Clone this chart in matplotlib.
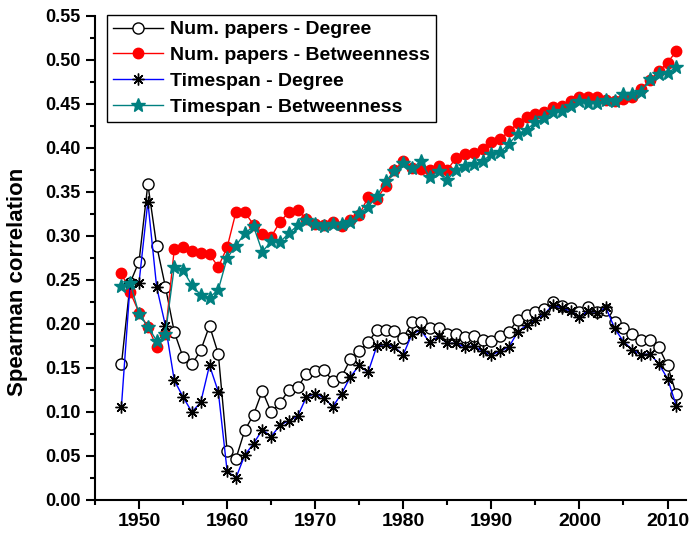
import numpy as np
import matplotlib
matplotlib.use("Agg")
import matplotlib.pyplot as plt
from matplotlib.ticker import MultipleLocator, FormatStrFormatter

plt.rcParams["font.family"] = ["Liberation Sans", "DejaVu Sans"]
plt.rcParams["font.weight"] = "bold"

years = np.arange(1948, 2012)

papers_degree = [
    0.154, 0.247, 0.271, 0.359, 0.289, 0.242, 0.191, 0.162, 0.154, 0.170,
    0.198, 0.166, 0.056, 0.047, 0.079, 0.097, 0.124, 0.100, 0.110, 0.125,
    0.128, 0.143, 0.147, 0.148, 0.135, 0.140, 0.160, 0.169, 0.179, 0.193,
    0.193, 0.192, 0.184, 0.202, 0.202, 0.195, 0.196, 0.189, 0.189, 0.185,
    0.186, 0.182, 0.181, 0.186, 0.191, 0.205, 0.210, 0.214, 0.217, 0.225,
    0.221, 0.218, 0.214, 0.219, 0.214, 0.216, 0.202, 0.195, 0.189, 0.182,
    0.182, 0.174, 0.153, 0.120,
]
papers_betweenness = [
    0.258, 0.236, 0.213, 0.197, 0.174, 0.189, 0.285, 0.287, 0.283, 0.281,
    0.279, 0.265, 0.287, 0.327, 0.327, 0.313, 0.302, 0.299, 0.316, 0.327,
    0.330, 0.319, 0.314, 0.312, 0.316, 0.311, 0.318, 0.324, 0.344, 0.342,
    0.357, 0.375, 0.385, 0.377, 0.376, 0.375, 0.380, 0.375, 0.389, 0.393,
    0.394, 0.399, 0.407, 0.410, 0.419, 0.428, 0.435, 0.439, 0.441, 0.447,
    0.448, 0.453, 0.458, 0.458, 0.458, 0.455, 0.453, 0.456, 0.458, 0.467,
    0.477, 0.487, 0.497, 0.510,
]
timespan_degree = [
    0.106, 0.247, 0.247, 0.339, 0.242, 0.198, 0.136, 0.117, 0.100, 0.111,
    0.153, 0.123, 0.033, 0.025, 0.051, 0.064, 0.080, 0.072, 0.085, 0.090,
    0.095, 0.117, 0.121, 0.116, 0.106, 0.121, 0.140, 0.153, 0.145, 0.175,
    0.177, 0.174, 0.165, 0.189, 0.193, 0.179, 0.186, 0.178, 0.178, 0.174,
    0.175, 0.169, 0.165, 0.169, 0.174, 0.191, 0.199, 0.205, 0.211, 0.222,
    0.218, 0.215, 0.208, 0.215, 0.213, 0.219, 0.195, 0.180, 0.171, 0.165,
    0.166, 0.155, 0.138, 0.107,
]
timespan_betweenness = [
    0.243, 0.247, 0.211, 0.197, 0.181, 0.189, 0.265, 0.261, 0.244, 0.233,
    0.230, 0.239, 0.275, 0.289, 0.303, 0.311, 0.282, 0.294, 0.293, 0.303,
    0.312, 0.318, 0.314, 0.311, 0.314, 0.314, 0.316, 0.326, 0.333, 0.345,
    0.362, 0.374, 0.383, 0.377, 0.385, 0.367, 0.374, 0.364, 0.375, 0.380,
    0.382, 0.385, 0.393, 0.395, 0.405, 0.416, 0.421, 0.429, 0.434, 0.441,
    0.442, 0.448, 0.453, 0.451, 0.451, 0.455, 0.453, 0.461, 0.461, 0.464,
    0.478, 0.484, 0.485, 0.492,
]

fig = plt.figure(figsize=(6.92, 5.37), dpi=100)
ax = fig.add_axes([95 / 692, 1 - 500 / 537, (686 - 95) / 692, (500 - 16) / 537])

ax.plot(years, papers_degree, color="black", lw=1, marker="o", ms=8,
        mfc="white", mec="black", mew=1, label="Num. papers - Degree")
ax.plot(years, papers_betweenness, color="red", lw=1, marker="o", ms=7.5,
        mfc="red", mec="red", label="Num. papers - Betweenness")
ax.plot(years, timespan_degree, color="blue", lw=1, marker=(8, 2, 0), ms=8.5,
        mec="black", mew=1, label="Timespan - Degree")
ax.plot(years, timespan_betweenness, color="#008080", lw=1, marker="*", ms=10,
        mfc="#008080", mec="#008080", label="Timespan - Betweenness")

ax.set_xlim(1945, 2012.1)
ax.set_ylim(0, 0.55)
ax.xaxis.set_major_locator(MultipleLocator(10))
ax.xaxis.set_minor_locator(MultipleLocator(5))
ax.yaxis.set_major_locator(MultipleLocator(0.05))
ax.yaxis.set_minor_locator(MultipleLocator(0.025))
ax.yaxis.set_major_formatter(FormatStrFormatter("%.2f"))

for side in ("top", "right"):
    ax.spines[side].set_visible(False)
for side in ("left", "bottom"):
    ax.spines[side].set_linewidth(1.5)
ax.tick_params(which="major", length=6.5, width=1.5)
ax.tick_params(which="minor", length=3.6, width=1.5)
ax.tick_params(axis="x", which="major", labelsize=14, pad=3)
ax.tick_params(axis="y", which="major", labelsize=13, pad=4)
for lbl in ax.get_xticklabels() + ax.get_yticklabels():
    lbl.set_fontweight("bold")

ax.set_ylabel("Spearman correlation", fontsize=16, fontweight="bold")
ax.yaxis.set_label_coords(-0.113, 0.45)

leg = ax.legend(loc="upper left", bbox_to_anchor=(107 / 692, 1 - 15 / 537),
                bbox_transform=fig.transFigure, borderaxespad=0,
                prop={"size": 14, "weight": "bold"}, handlelength=2.6,
                handletextpad=0.35, labelspacing=0.42, fancybox=False,
                edgecolor="black", framealpha=1, borderpad=0.3)
leg.get_frame().set_linewidth(1)

fig.savefig("out.png", dpi=100)
